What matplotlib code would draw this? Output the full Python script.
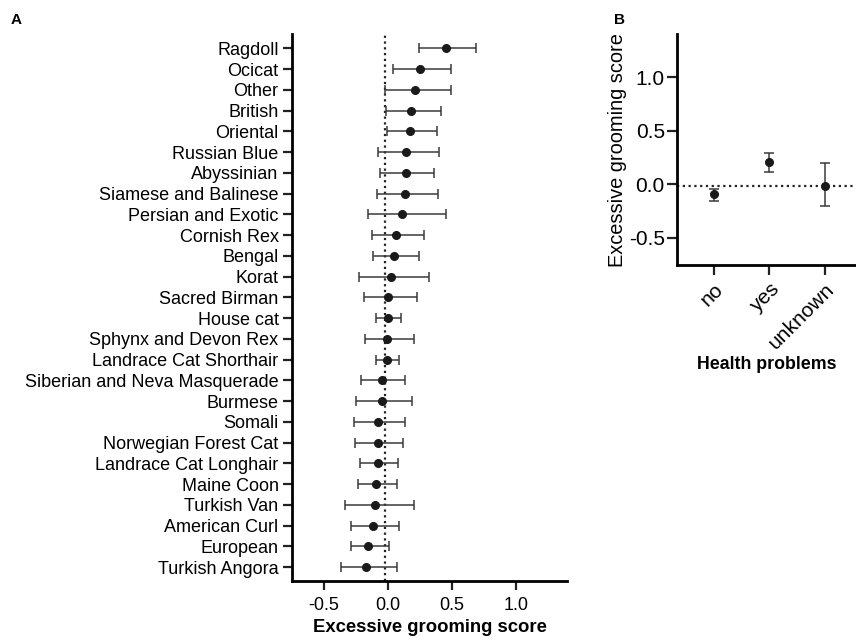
import numpy as np
import matplotlib.pyplot as plt

plt.rcParams['font.family'] = ['Liberation Sans', 'DejaVu Sans']

breeds = ["Ragdoll", "Ocicat", "Other", "British", "Oriental", "Russian Blue",
          "Abyssinian", "Siamese and Balinese", "Persian and Exotic", "Cornish Rex",
          "Bengal", "Korat", "Sacred Birman", "House cat", "Sphynx and Devon Rex",
          "Landrace Cat Shorthair", "Siberian and Neva Masquerade", "Burmese",
          "Somali", "Norwegian Forest Cat", "Landrace Cat Longhair", "Maine Coon",
          "Turkish Van", "American Curl", "European", "Turkish Angora"]
breed_mean = [0.453, 0.253, 0.211, 0.183, 0.175, 0.141, 0.141, 0.131, 0.113, 0.061,
              0.051, 0.022, 0.001, 0.001, -0.009, -0.009, -0.048, -0.048, -0.079,
              -0.079, -0.079, -0.089, -0.100, -0.118, -0.157, -0.167]
breed_lo = [0.243, 0.040, -0.019, -0.014, -0.006, -0.074, -0.058, -0.084, -0.152, -0.123,
            -0.113, -0.224, -0.188, -0.092, -0.178, -0.092, -0.209, -0.248, -0.266,
            -0.253, -0.214, -0.232, -0.333, -0.289, -0.289, -0.367]
breed_hi = [0.691, 0.492, 0.492, 0.411, 0.380, 0.401, 0.362, 0.390, 0.453, 0.282,
            0.240, 0.320, 0.230, 0.103, 0.201, 0.089, 0.131, 0.191, 0.131, 0.121,
            0.082, 0.072, 0.201, 0.089, 0.006, 0.072]

health = ["no", "yes", "unknown"]
health_mean = [-0.093, 0.205, -0.013]
health_lo = [-0.156, 0.115, -0.205]
health_hi = [-0.041, 0.295, 0.201]

ref_line = -0.02

fig = plt.figure(figsize=(8.56, 6.4), dpi=100)
axA = fig.add_axes([0.3408, 0.0922, 0.322, 0.8547])
axB = fig.add_axes([0.7913, 0.5855, 0.2087, 0.361])

def style(ax, size):
    for s in ['top', 'right']:
        ax.spines[s].set_visible(False)
    for s in ['left', 'bottom']:
        ax.spines[s].set_linewidth(2)
    ax.tick_params(width=1.6, length=6.5, labelsize=size, color='#222222', pad=3)

# panel A
y = np.arange(len(breeds))
m = np.array(breed_mean)
err = [m - np.array(breed_lo), np.array(breed_hi) - m]
axA.axvline(ref_line, color='#222222', ls=(0, (1, 1.6)), lw=1.6, zorder=1)
axA.errorbar(m, y, xerr=err, fmt='o', color='#1a1a1a', ecolor='#3a3a3a',
             elinewidth=1.1, capsize=3.5, capthick=1.1, markersize=5.5, zorder=3)
axA.set_yticks(y)
axA.set_yticklabels(breeds)
axA.set_ylim(len(breeds) - 1 + 0.67, -0.69)
axA.set_xlim(-0.75, 1.4)
axA.set_xticks([-0.5, 0.0, 0.5, 1.0])
axA.set_xticklabels(["-0.5", "0.0", "0.5", "1.0"])
style(axA, 13)
axA.tick_params(axis='x', pad=5)
axA.set_xlabel("Excessive grooming score", fontsize=13.3, fontweight='bold', labelpad=3.5)

# panel B
x = np.arange(len(health))
hm = np.array(health_mean)
herr = [hm - np.array(health_lo), np.array(health_hi) - hm]
axB.axhline(ref_line, color='#222222', ls=(0, (1, 1.6)), lw=1.6, zorder=1)
axB.errorbar(x, hm, yerr=herr, fmt='o', color='#1a1a1a', ecolor='#3a3a3a',
             elinewidth=1.1, capsize=3.5, capthick=1.1, markersize=5.5, zorder=3)
axB.set_xticks(x)
axB.set_xticklabels(health, rotation=45, ha='right', rotation_mode='anchor')
axB.set_xlim(-0.66, 2.56)
axB.set_ylim(-0.755, 1.4)
axB.set_yticks([-0.5, 0.0, 0.5, 1.0])
axB.set_yticklabels(["-0.5", "0.0", "0.5", "1.0"])
style(axB, 15)
axB.tick_params(length=7.5)
axB.tick_params(axis='y', pad=1.5)
axB.set_ylabel("Excessive grooming score", fontsize=14.4, labelpad=1)
axB.set_xlabel("Health problems", fontsize=12.8, fontweight='bold', labelpad=2)

fig.text(0.012, 0.963, "A", fontsize=11, fontweight='bold')
fig.text(0.717, 0.963, "B", fontsize=11, fontweight='bold')

fig.savefig("out.png", dpi=100)
